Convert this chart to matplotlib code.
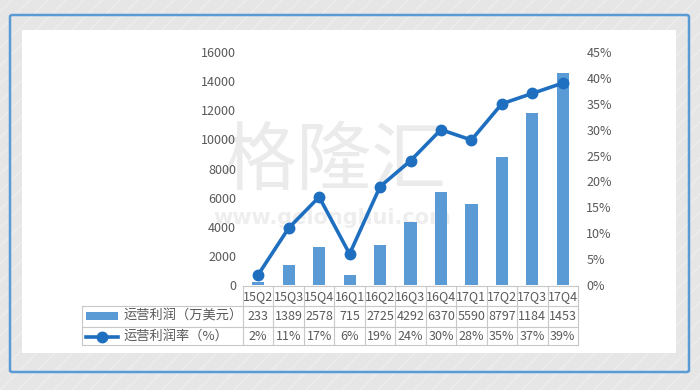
import matplotlib.pyplot as plt
from matplotlib.patches import Rectangle, FancyBboxPatch
from matplotlib.lines import Line2D
from matplotlib.ticker import FuncFormatter
import matplotlib.transforms as mtransforms

plt.rcParams['font.family'] = ['Noto Sans CJK SC', 'DejaVu Sans']

quarters = ['15Q2', '15Q3', '15Q4', '16Q1', '16Q2', '16Q3', '16Q4',
            '17Q1', '17Q2', '17Q3', '17Q4']
profit = [233, 1389, 2578, 715, 2725, 4292, 6370, 5590, 8797, 11840, 14530]
margin = [2, 11, 17, 6, 19, 24, 30, 28, 35, 37, 39]
profit_label = '运营利润（万美元）'
margin_label = '运营利润率（%）'

W, H = 700, 390
bar_color = '#5b9bd5'
line_color = '#1f6fc0'
text_color = '#595959'
grid_color = '#c8c8c8'


def fx(x):
    return x / W


def fy(y):
    return 1 - y / H


fig = plt.figure(figsize=(7, 3.9), dpi=100)
fig.patch.set_facecolor('#e6e6e6')

# striped background
for k in range(-40, 60):
    x0 = k * 18
    fig.add_artist(Line2D([fx(x0), fx(x0 + 400)], [fy(H), fy(H - 400)],
                          color='white', alpha=0.35, lw=0.8, zorder=0))

# blue frame and white panel
fig.add_artist(FancyBboxPatch((fx(10), fy(372)), fx(679), 357 / H,
                              boxstyle='round,pad=0,rounding_size=0.004',
                              facecolor='none', edgecolor=bar_color, lw=1.8,
                              zorder=1))
fig.add_artist(Rectangle((fx(22), fy(353)), fx(654), 323 / H,
                         facecolor='white', edgecolor='none', zorder=1))

# watermark
fig.text(fx(334), fy(162), '格隆汇', fontsize=54, color='#ebebeb',
         ha='center', va='center', zorder=2)
fig.text(fx(332), fy(218), 'www.gelonghui.com', fontsize=15, color='#eeeeee',
         ha='center', va='center', fontweight='bold', family='DejaVu Sans',
         zorder=2)

ax = fig.add_axes([fx(243), fy(285), 335 / W, 233 / H])
ax.set_zorder(5)
ax.patch.set_alpha(0)
x = list(range(len(quarters)))
ax.bar(x, profit, width=0.4, color=bar_color, zorder=3)
ax.set_xlim(-0.5, len(quarters) - 0.5)
ax.set_ylim(0, 16000)
ax.set_yticks(range(0, 16001, 2000))
ax.set_xticks([])
ax.tick_params(axis='y', length=0, pad=5, labelsize=9, labelcolor=text_color)

ax2 = ax.twinx()
ax2.set_zorder(6)
ax2.patch.set_alpha(0)
ax2.plot(x, margin, color=line_color, lw=2.6, marker='o', markersize=7.5,
         zorder=4)
ax2.set_ylim(0, 45)
ax2.set_yticks(range(0, 46, 5))
ax2.yaxis.set_major_formatter(FuncFormatter(lambda v, p: f'{v:.0f}%'))
ax2.tick_params(axis='y', length=0, pad=6, labelsize=9, labelcolor=text_color)

for a in (ax, ax2):
    for s in a.spines.values():
        s.set_visible(False)

# data table under the chart
tr = mtransforms.blended_transform_factory(ax.transAxes, fig.transFigure)
n = len(quarters)
rows_y = [286, 306, 327, 345]
left = (82 - 243) / 335


def hline(x0, x1, y):
    ax.plot([x0, x1], [fy(y), fy(y)], transform=tr, color=grid_color,
            lw=0.8, clip_on=False)


def vline(xa, y0, y1):
    ax.plot([xa, xa], [fy(y0), fy(y1)], transform=tr, color=grid_color,
            lw=0.8, clip_on=False)


hline(0, 1, rows_y[0])
for y in rows_y[1:]:
    hline(left, 1, y)
for i in range(n + 1):
    vline(i / n, rows_y[0], rows_y[3])
vline(left, rows_y[1], rows_y[3])

for i, q in enumerate(quarters):
    cx = (i + 0.5) / n
    ax.text(cx, fy(296.5), q, transform=tr, ha='center', va='center',
            fontsize=9, color=text_color)
    ax.text(cx, fy(316.5), str(profit[i])[:4], transform=tr, ha='center',
            va='center', fontsize=9, color=text_color)
    ax.text(cx, fy(336.5), f'{margin[i]}%', transform=tr, ha='center',
            va='center', fontsize=9, color=text_color)

fig.add_artist(Rectangle((fx(86), fy(320)), fx(32), 8 / H,
                         facecolor=bar_color, edgecolor='none', zorder=3))
fig.add_artist(Line2D([fx(86), fx(118)], [fy(336.5), fy(336.5)],
                      color=line_color, lw=2.6, zorder=3))
fig.add_artist(Line2D([fx(102)], [fy(336.5)], color=line_color, marker='o',
                      markersize=7.5, zorder=3))
fig.text(fx(124), fy(316.5), profit_label, fontsize=9.5, color=text_color,
         va='center', zorder=3)
fig.text(fx(124), fy(336.5), margin_label, fontsize=9.5, color=text_color,
         va='center', zorder=3)

fig.savefig('out.png', dpi=100)
